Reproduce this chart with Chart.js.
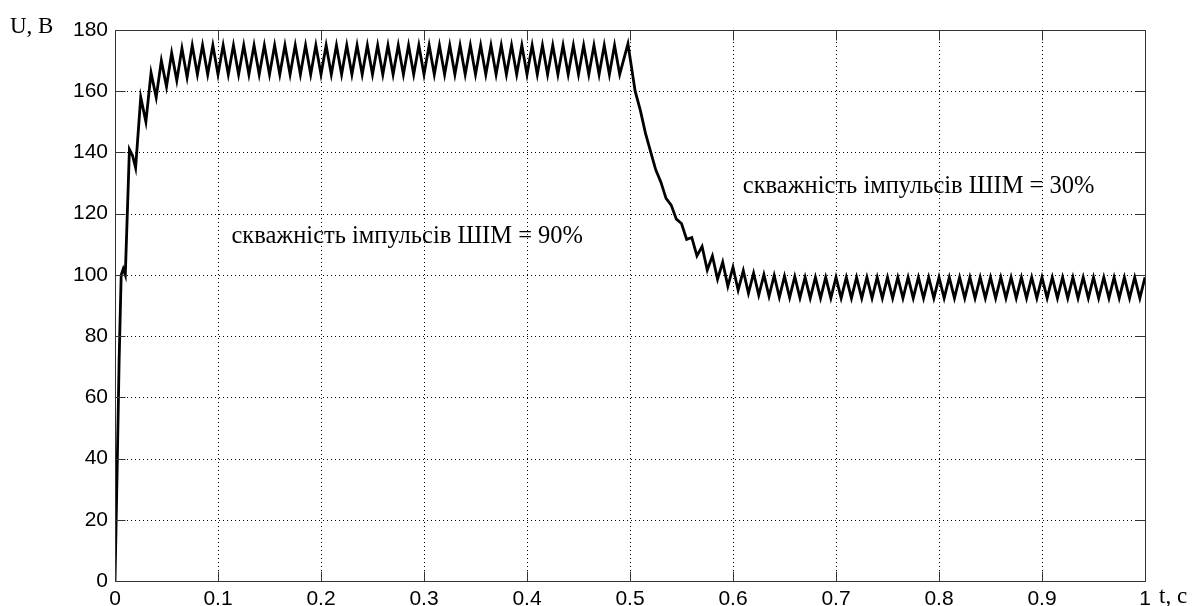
<!DOCTYPE html>
<html>
<head>
<meta charset="utf-8">
<script src="https://cdn.jsdelivr.net/npm/chart.js@4.4.0/dist/chart.umd.min.js"></script>
<style>
  html, body { margin: 0; padding: 0; background: #fff; }
  #wrap { width: 1196px; height: 606px; position: relative; }
</style>
</head>
<body>
<div id="wrap"><canvas id="voltChart"></canvas></div>
<script>
// start-up, t (s) and U (V)
var tStart = [0, 0.002, 0.004, 0.006, 0.008, 0.010, 0.014, 0.017, 0.020, 0.025,
  0.030, 0.035, 0.040, 0.045, 0.050, 0.055, 0.060, 0.065, 0.070];
var uStart = [0, 35, 72, 100, 102, 100, 141, 139, 135, 158,
  150, 166, 158, 170, 161.5, 172.5, 163.5, 174, 164.5];

// steady run, duty 90%
var tRun90 = [
  0.075, 0.080, 0.085, 0.090, 0.095, 0.100, 0.105, 0.110, 0.115, 0.120,
  0.125, 0.130, 0.135, 0.140, 0.145, 0.150, 0.155, 0.160, 0.165, 0.170,
  0.175, 0.180, 0.185, 0.190, 0.195, 0.200, 0.205, 0.210, 0.215, 0.220,
  0.225, 0.230, 0.235, 0.240, 0.245, 0.250, 0.255, 0.260, 0.265, 0.270,
  0.275, 0.280, 0.285, 0.290, 0.295, 0.300, 0.305, 0.310, 0.315, 0.320,
  0.325, 0.330, 0.335, 0.340, 0.345, 0.350, 0.355, 0.360, 0.365, 0.370,
  0.375, 0.380, 0.385, 0.390, 0.395, 0.400, 0.405, 0.410, 0.415, 0.420,
  0.425, 0.430, 0.435, 0.440, 0.445, 0.450, 0.455, 0.460, 0.465, 0.470,
  0.475, 0.480, 0.485, 0.490];
var uRun90 = [
  175, 165.5, 175, 165.5, 175, 165.5, 175, 165.5, 175, 165.5,
  175, 165.5, 175, 165.5, 175, 165.5, 175, 165.5, 175, 165.5,
  175, 165.5, 175, 165.5, 175, 165.5, 175, 165.5, 175, 165.5,
  175, 165.5, 175, 165.5, 175, 165.5, 175, 165.5, 175, 165.5,
  175, 165.5, 175, 165.5, 175, 165.5, 175, 165.5, 175, 165.5,
  175, 165.5, 175, 165.5, 175, 165.5, 175, 165.5, 175, 165.5,
  175, 165.5, 175, 165.5, 175, 165.5, 175, 165.5, 175, 165.5,
  175, 165.5, 175, 165.5, 175, 165.5, 175, 165.5, 175, 165.5,
  175, 165.5, 175, 165.5];

// switch to 30% and decay
var tFall = [0.498, 0.505, 0.510, 0.515, 0.520, 0.525, 0.530, 0.535, 0.540, 0.545,
  0.550, 0.555, 0.560, 0.565, 0.570, 0.575, 0.580, 0.585, 0.590, 0.595,
  0.600, 0.605, 0.610, 0.615, 0.620, 0.625, 0.630, 0.635, 0.640, 0.645,
  0.650, 0.655, 0.660, 0.665];
var uFall = [175.5, 160, 153.8, 146.3, 140.3, 134.3, 130.3, 125, 122.8, 118.2,
  116.8, 111.6, 112.2, 106.2, 109.3, 101.6, 106.2, 98.6, 104.2, 96.3,
  102.5, 95.0, 101.4, 94.0, 100.6, 93.4, 100.1, 93.0, 99.8, 92.7,
  99.6, 92.6, 99.4, 92.5];

// steady run, duty 30%
var tRun30 = [
  0.670, 0.675, 0.680, 0.685, 0.690, 0.695, 0.700, 0.705, 0.710, 0.715,
  0.720, 0.725, 0.730, 0.735, 0.740, 0.745, 0.750, 0.755, 0.760, 0.765,
  0.770, 0.775, 0.780, 0.785, 0.790, 0.795, 0.800, 0.805, 0.810, 0.815,
  0.820, 0.825, 0.830, 0.835, 0.840, 0.845, 0.850, 0.855, 0.860, 0.865,
  0.870, 0.875, 0.880, 0.885, 0.890, 0.895, 0.900, 0.905, 0.910, 0.915,
  0.920, 0.925, 0.930, 0.935, 0.940, 0.945, 0.950, 0.955, 0.960, 0.965,
  0.970, 0.975, 0.980, 0.985, 0.990, 0.995, 1.000];
var uRun30 = [
  99.2, 92.4, 99.2, 92.4, 99.2, 92.4, 99.2, 92.4, 99.2, 92.4,
  99.2, 92.4, 99.2, 92.4, 99.2, 92.4, 99.2, 92.4, 99.2, 92.4,
  99.2, 92.4, 99.2, 92.4, 99.2, 92.4, 99.2, 92.4, 99.2, 92.4,
  99.2, 92.4, 99.2, 92.4, 99.2, 92.4, 99.2, 92.4, 99.2, 92.4,
  99.2, 92.4, 99.2, 92.4, 99.2, 92.4, 99.2, 92.4, 99.2, 92.4,
  99.2, 92.4, 99.2, 92.4, 99.2, 92.4, 99.2, 92.4, 99.2, 92.4,
  99.2, 92.4, 99.2, 92.4, 99.2, 92.4, 99.2];

// axes
var xTicks = [0, 0.1, 0.2, 0.3, 0.4, 0.5, 0.6, 0.7, 0.8, 0.9, 1];
var yTicks = [0, 20, 40, 60, 80, 100, 120, 140, 160, 180];
var xTitle = 't, c';
var yTitle = 'U, B';

// notes, placed in data units (t, U)
var notes = [
  { text: 'скважність імпульсів ШІМ = 90%', t: 0.113, u: 110.4 },
  { text: 'скважність імпульсів ШІМ = 30%', t: 0.6095, u: 126.8 }
];

function buildPoints() {
  var ts = tStart.concat(tRun90, tFall, tRun30);
  var us = uStart.concat(uRun90, uFall, uRun30);
  var pts = [];
  for (var i = 0; i < ts.length; i++) {
    pts.push({ x: ts[i], y: us[i] });
  }
  return pts;
}

var tickFont = { family: '"Liberation Sans", Arial, sans-serif', size: 21 };
var serif = '"Liberation Serif", "Times New Roman", serif';

// matlab-like frame: dotted grid, box, inward ticks
var framePlugin = {
  id: 'frame',
  beforeDatasetsDraw: function(chart) {
    var ctx = chart.ctx, a = chart.chartArea;
    var xs = chart.scales.x, ys = chart.scales.y;
    ctx.save();
    ctx.strokeStyle = '#000';
    ctx.lineWidth = 1;
    ctx.setLineDash([1, 3]);
    ctx.beginPath();
    xTicks.forEach(function(v) {
      var px = Math.round(xs.getPixelForValue(v)) + 0.5;
      if (v === xs.min || v === xs.max) return;
      ctx.moveTo(px, a.top);
      ctx.lineTo(px, a.bottom);
    });
    yTicks.forEach(function(v) {
      var py = Math.round(ys.getPixelForValue(v)) + 0.5;
      if (v === ys.min || v === ys.max) return;
      ctx.moveTo(a.left, py);
      ctx.lineTo(a.right, py);
    });
    ctx.stroke();
    ctx.restore();
  },
  afterDatasetsDraw: function(chart) {
    var ctx = chart.ctx, a = chart.chartArea;
    var xs = chart.scales.x, ys = chart.scales.y;
    var L = Math.round(a.left) + 0.5, R = Math.round(a.right) + 0.5;
    var T = Math.round(a.top) + 0.5, B = Math.round(a.bottom) + 0.5;
    var len = 10;
    ctx.save();
    ctx.strokeStyle = '#333';
    ctx.lineWidth = 1;
    ctx.beginPath();
    ctx.rect(L, T, R - L, B - T);
    xTicks.forEach(function(v) {
      var px = Math.round(xs.getPixelForValue(v)) + 0.5;
      ctx.moveTo(px, B); ctx.lineTo(px, B - len);
      ctx.moveTo(px, T); ctx.lineTo(px, T + len);
    });
    yTicks.forEach(function(v) {
      var py = Math.round(ys.getPixelForValue(v)) + 0.5;
      ctx.moveTo(L, py); ctx.lineTo(L + len, py);
      ctx.moveTo(R, py); ctx.lineTo(R - len, py);
    });
    ctx.stroke();
    ctx.restore();
  },
  afterDraw: function(chart) {
    var ctx = chart.ctx, a = chart.chartArea;
    var xs = chart.scales.x, ys = chart.scales.y;
    ctx.save();
    ctx.fillStyle = '#000';
    ctx.textBaseline = 'alphabetic';
    ctx.textAlign = 'left';
    ctx.font = '24.5px ' + serif;
    notes.forEach(function(n) {
      ctx.fillText(n.text, xs.getPixelForValue(n.t), ys.getPixelForValue(n.u));
    });
    ctx.font = '23px ' + serif;
    ctx.fillText(yTitle, a.left - 105, a.top + 3);
    ctx.fillText(xTitle, a.right + 14, a.bottom + 22);
    ctx.restore();
  }
};

function buildChart() {
  var ctx = document.getElementById('voltChart').getContext('2d');
  return new Chart(ctx, {
    type: 'line',
    data: {
      datasets: [{
        data: buildPoints(),
        borderColor: '#000',
        borderWidth: 2.8,
        pointRadius: 0,
        tension: 0,
        fill: false
      }]
    },
    options: {
      responsive: true,
      maintainAspectRatio: false,
      animation: false,
      devicePixelRatio: 1,
      layout: { padding: { left: 0, top: 30, right: 51, bottom: 0 } },
      plugins: { legend: { display: false }, tooltip: { enabled: false } },
      scales: {
        x: {
          type: 'linear',
          min: 0,
          max: 1,
          afterBuildTicks: function(s) { s.ticks = xTicks.map(function(v) { return { value: v }; }); },
          afterFit: function(s) { s.height = 25; },
          grid: { display: false, drawTicks: false },
          border: { display: false },
          ticks: {
            autoSkip: false,
            maxRotation: 0,
            padding: 6,
            color: '#000',
            font: tickFont,
            callback: function(v) { return String(Number(v.toFixed(1))); }
          }
        },
        y: {
          min: 0,
          max: 180,
          afterBuildTicks: function(s) { s.ticks = yTicks.map(function(v) { return { value: v }; }); },
          afterFit: function(s) { s.width = 115; },
          grid: { display: false, drawTicks: false },
          border: { display: false },
          ticks: {
            padding: 7,
            color: '#000',
            font: tickFont
          }
        }
      }
    },
    plugins: [framePlugin]
  });
}

var voltChart = buildChart();
</script>
</body>
</html>
